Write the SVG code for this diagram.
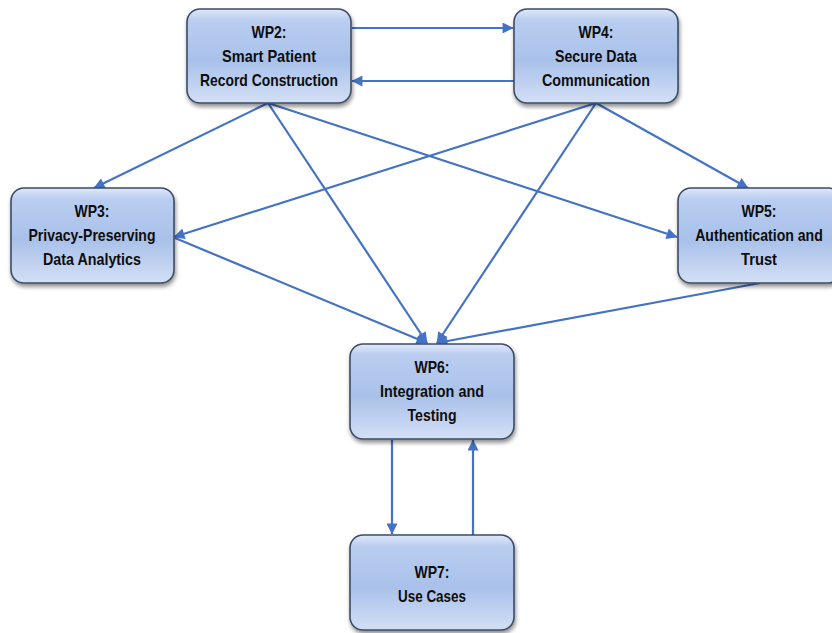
<svg xmlns="http://www.w3.org/2000/svg" width="832" height="633" viewBox="0 0 832 633">
  <defs>
    <linearGradient id="boxFill" x1="0" y1="0" x2="0" y2="1">
      <stop offset="0" stop-color="#dfe8f9"/>
      <stop offset="0.12" stop-color="#b9cdf0"/>
      <stop offset="0.55" stop-color="#a9c1ea"/>
      <stop offset="1" stop-color="#d3dff5"/>
    </linearGradient>
    <filter id="shadow" x="-10%" y="-10%" width="125%" height="130%">
      <feGaussianBlur in="SourceAlpha" stdDeviation="2"/>
      <feOffset dx="1" dy="3" result="b"/>
      <feComponentTransfer><feFuncA type="linear" slope="0.45"/></feComponentTransfer>
      <feMerge><feMergeNode/><feMergeNode in="SourceGraphic"/></feMerge>
    </filter>
    <marker id="arrow" viewBox="0 0 10 10" refX="9.5" refY="5" markerWidth="5.5" markerHeight="5" orient="auto" markerUnits="strokeWidth">
      <path d="M0,0 L10,5 L0,10 Z" fill="#4472c4"/>
    </marker>
  </defs>
  <style>
    .box { fill: url(#boxFill); stroke: #3c4c66; stroke-width: 1.6; filter: url(#shadow); }
    .label { font-family: "Liberation Sans", Arial, sans-serif; font-weight: bold; font-size: 17px; fill: #0d0d0d; text-anchor: middle; }
    .edge { stroke: #4472c4; stroke-width: 2.2; fill: none; marker-end: url(#arrow); }
  </style>
  <rect width="832" height="633" fill="#ffffff"/>

  <g id="connectors">
    <line class="edge" x1="352" y1="28" x2="513" y2="28"/>
    <line class="edge" x1="514" y1="81" x2="352" y2="81"/>
    <line class="edge" x1="268" y1="103" x2="94" y2="188"/>
    <line class="edge" x1="268" y1="103" x2="427" y2="343"/>
    <line class="edge" x1="268" y1="103" x2="677" y2="237"/>
    <line class="edge" x1="596" y1="103" x2="174" y2="237"/>
    <line class="edge" x1="596" y1="103" x2="437" y2="343"/>
    <line class="edge" x1="596" y1="103" x2="748" y2="188"/>
    <line class="edge" x1="175" y1="238" x2="427" y2="343"/>
    <line class="edge" x1="760" y1="283" x2="437" y2="343"/>
    <line class="edge" x1="392" y1="440" x2="392" y2="534"/>
    <line class="edge" x1="473" y1="535" x2="473" y2="440"/>
  </g>

  <g id="wp2">
    <rect class="box" x="187" y="9" width="164" height="94" rx="13"/>
    <text class="label" x="269" y="38" textLength="35" lengthAdjust="spacingAndGlyphs">WP2:</text>
    <text class="label" x="269" y="62" textLength="94" lengthAdjust="spacingAndGlyphs">Smart Patient</text>
    <text class="label" x="269" y="86" textLength="138" lengthAdjust="spacingAndGlyphs">Record Construction</text>
  </g>
  <g id="wp4">
    <rect class="box" x="514" y="9" width="164" height="94" rx="13"/>
    <text class="label" x="596" y="38" textLength="35" lengthAdjust="spacingAndGlyphs">WP4:</text>
    <text class="label" x="596" y="62" textLength="82" lengthAdjust="spacingAndGlyphs">Secure Data</text>
    <text class="label" x="596" y="86" textLength="108" lengthAdjust="spacingAndGlyphs">Communication</text>
  </g>
  <g id="wp3">
    <rect class="box" x="11" y="188" width="163" height="95" rx="13"/>
    <text class="label" x="92" y="217" textLength="35" lengthAdjust="spacingAndGlyphs">WP3:</text>
    <text class="label" x="92" y="241" textLength="127" lengthAdjust="spacingAndGlyphs">Privacy-Preserving</text>
    <text class="label" x="92" y="265" textLength="98" lengthAdjust="spacingAndGlyphs">Data Analytics</text>
  </g>
  <g id="wp5">
    <rect class="box" x="678" y="188" width="164" height="95" rx="13"/>
    <text class="label" x="759" y="217" textLength="35" lengthAdjust="spacingAndGlyphs">WP5:</text>
    <!-- narrowed with a scale so the line keeps clear of the right edge -->
    <text class="label" transform="translate(759,241) scale(0.83,1)" x="0" y="0">Authentication and</text>
    <text class="label" x="759" y="265" textLength="36" lengthAdjust="spacingAndGlyphs">Trust</text>
  </g>
  <g id="wp6">
    <rect class="box" x="350" y="344" width="164" height="95" rx="13"/>
    <text class="label" x="432" y="373" textLength="35" lengthAdjust="spacingAndGlyphs">WP6:</text>
    <text class="label" x="432" y="397" textLength="104" lengthAdjust="spacingAndGlyphs">Integration and</text>
    <text class="label" x="432" y="421" textLength="49" lengthAdjust="spacingAndGlyphs">Testing</text>
  </g>
  <g id="wp7">
    <rect class="box" x="350" y="535" width="164" height="95" rx="13"/>
    <text class="label" x="432" y="578" textLength="35" lengthAdjust="spacingAndGlyphs">WP7:</text>
    <text class="label" x="432" y="602" textLength="68" lengthAdjust="spacingAndGlyphs">Use Cases</text>
  </g>
</svg>
